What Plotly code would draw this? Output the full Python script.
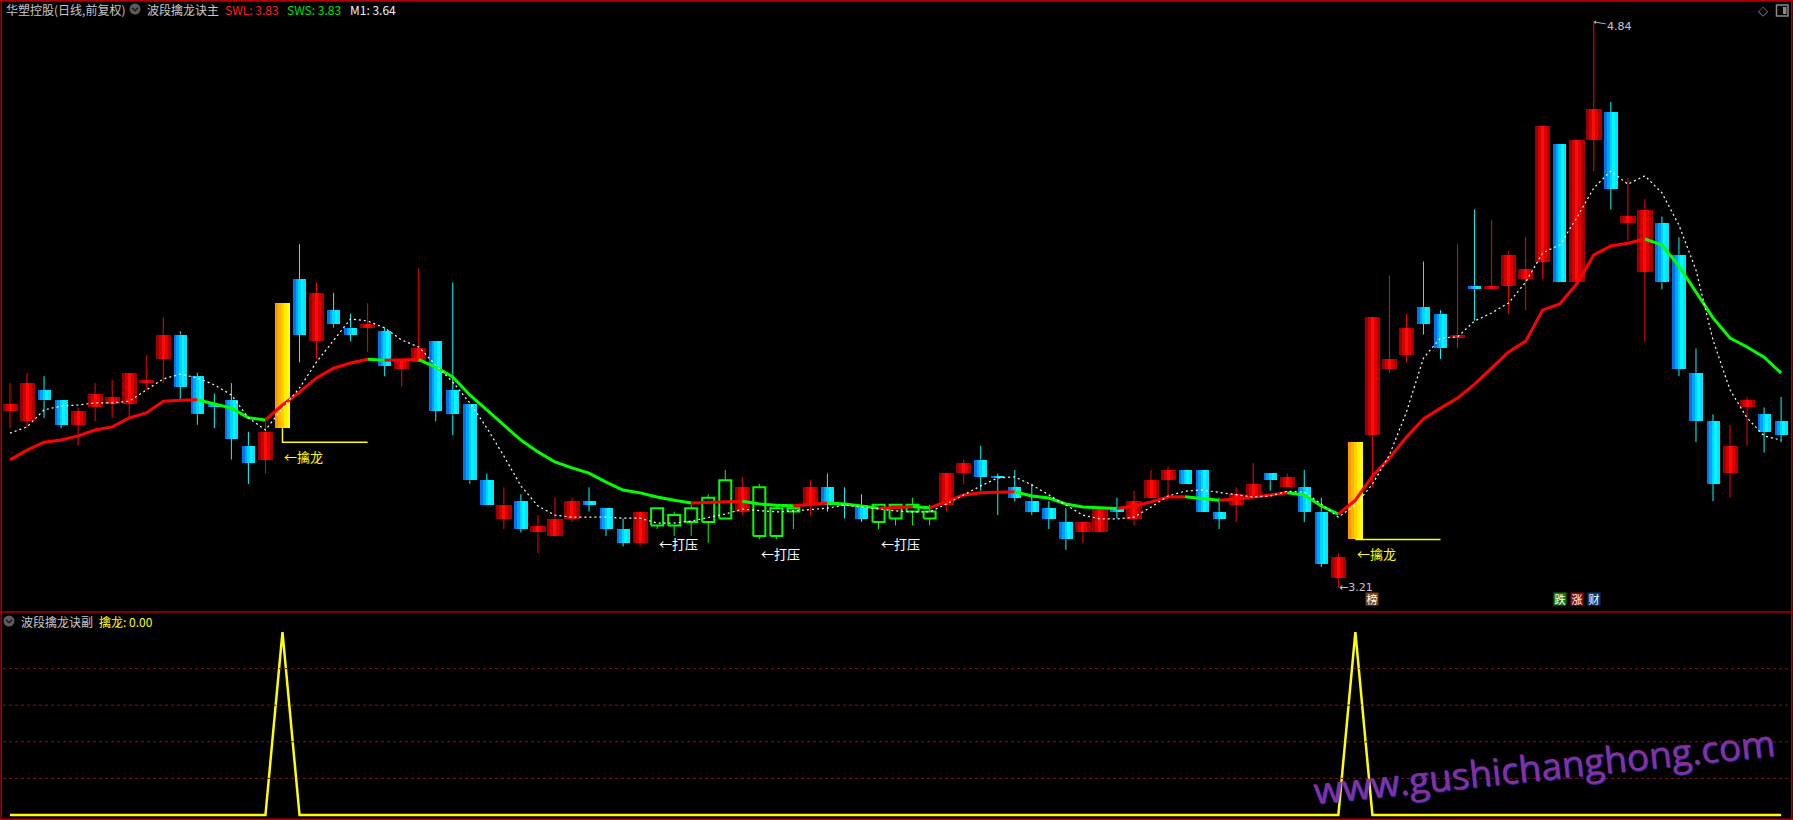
import plotly.graph_objects as go

# ---------------- data ----------------
stock_name = "华塑控股(日线,前复权)"
main_name = "波段擒龙诀主"
sub_name = "波段擒龙诀副"
signal_name = "擒龙"
press_name = "打压"

opens = [3.72, 3.69, 3.78, 3.75, 3.68, 3.73, 3.74, 3.74, 3.80, 3.87,
         3.94, 3.82, 3.74, 3.75, 3.62, 3.58, 3.67, 4.10, 3.92, 4.01,
         3.96, 3.96, 3.95, 3.84, 3.86, 3.92, 3.78, 3.74, 3.52, 3.41,
         3.46, 3.37, 3.36, 3.41, 3.46, 3.44, 3.38, 3.34, 3.39, 3.39,
         3.40, 3.40, 3.41, 3.43, 3.50, 3.36, 3.43, 3.45, 3.50, 3.45,
         3.45, 3.40, 3.45, 3.45, 3.41, 3.45, 3.54, 3.58, 3.53, 3.50,
         3.46, 3.44, 3.40, 3.37, 3.37, 3.44, 3.41, 3.47, 3.52, 3.55,
         3.55, 3.43, 3.45, 3.47, 3.54, 3.50, 3.50, 3.43, 3.24, 3.35,
         3.65, 3.84, 3.88, 4.02, 4.00, 3.93, 4.08, 4.07, 4.08, 4.10,
         4.15, 4.49, 4.09, 4.50, 4.58, 4.26, 4.12, 4.26, 4.17, 3.83,
         3.69, 3.54, 3.73, 3.71, 3.69]
highs = [3.80, 3.83, 3.82, 3.75, 3.73, 3.80, 3.81, 3.83, 3.88, 3.99,
         3.95, 3.83, 3.77, 3.80, 3.66, 3.69, 4.03, 4.20, 4.09, 4.06,
         4.00, 4.03, 3.96, 3.87, 4.13, 3.92, 4.09, 3.74, 3.54, 3.50,
         3.48, 3.42, 3.47, 3.47, 3.50, 3.44, 3.41, 3.43, 3.44, 3.43,
         3.45, 3.48, 3.55, 3.53, 3.51, 3.45, 3.45, 3.52, 3.54, 3.50,
         3.48, 3.45, 3.45, 3.47, 3.45, 3.54, 3.58, 3.62, 3.54, 3.55,
         3.51, 3.46, 3.44, 3.40, 3.44, 3.47, 3.49, 3.55, 3.56, 3.55,
         3.55, 3.47, 3.50, 3.57, 3.54, 3.54, 3.55, 3.47, 3.31, 3.63,
         3.99, 4.11, 4.00, 4.15, 4.01, 4.20, 4.30, 4.27, 4.18, 4.22,
         4.54, 4.49, 4.50, 4.84, 4.61, 4.39, 4.33, 4.28, 4.22, 3.90,
         3.71, 3.68, 3.76, 3.73, 3.76]
lows = [3.67, 3.67, 3.70, 3.67, 3.62, 3.69, 3.70, 3.70, 3.78, 3.80,
        3.75, 3.68, 3.67, 3.58, 3.51, 3.54, 3.63, 3.86, 3.87, 3.96,
        3.92, 3.89, 3.82, 3.79, 3.86, 3.69, 3.65, 3.51, 3.45, 3.38,
        3.37, 3.31, 3.36, 3.40, 3.43, 3.36, 3.33, 3.33, 3.38, 3.36,
        3.36, 3.34, 3.41, 3.42, 3.35, 3.35, 3.38, 3.42, 3.43, 3.41,
        3.40, 3.38, 3.39, 3.39, 3.39, 3.43, 3.51, 3.49, 3.42, 3.46,
        3.42, 3.38, 3.32, 3.34, 3.37, 3.41, 3.39, 3.47, 3.47, 3.51,
        3.43, 3.38, 3.40, 3.47, 3.49, 3.50, 3.40, 3.27, 3.21, 3.35,
        3.50, 3.83, 3.86, 3.94, 3.87, 3.90, 3.98, 4.07, 4.00, 4.01,
        4.10, 4.09, 4.09, 4.41, 4.30, 4.21, 3.92, 4.07, 3.82, 3.63,
        3.46, 3.47, 3.62, 3.60, 3.63]
closes = [3.74, 3.80, 3.75, 3.68, 3.72, 3.77, 3.76, 3.83, 3.81, 3.94,
          3.79, 3.71, 3.73, 3.64, 3.57, 3.66, 4.03, 3.94, 4.06, 3.97,
          3.94, 3.97, 3.85, 3.87, 3.90, 3.72, 3.71, 3.52, 3.45, 3.45,
          3.38, 3.39, 3.41, 3.46, 3.45, 3.38, 3.34, 3.43, 3.44, 3.42,
          3.44, 3.47, 3.52, 3.50, 3.36, 3.44, 3.44, 3.50, 3.45, 3.45,
          3.41, 3.45, 3.41, 3.43, 3.43, 3.54, 3.57, 3.53, 3.53, 3.47,
          3.43, 3.41, 3.35, 3.40, 3.44, 3.43, 3.46, 3.52, 3.55, 3.51,
          3.43, 3.41, 3.48, 3.51, 3.52, 3.53, 3.43, 3.28, 3.30, 3.63,
          3.99, 3.87, 3.96, 3.97, 3.90, 3.94, 4.07, 4.08, 4.17, 4.13,
          4.54, 4.09, 4.50, 4.59, 4.36, 4.28, 4.30, 4.09, 3.84, 3.69,
          3.51, 3.62, 3.75, 3.66, 3.65]

# SWL / SWS trend line (red while rising, green while falling)
trend_line = [3.579, 3.607, 3.630, 3.636, 3.648, 3.665, 3.674, 3.700, 3.714, 3.748,
              3.751, 3.752, 3.740, 3.728, 3.700, 3.694, 3.737, 3.774, 3.815, 3.843,
              3.858, 3.869, 3.866, 3.867, 3.868, 3.846, 3.818, 3.766, 3.723, 3.679,
              3.636, 3.602, 3.573, 3.556, 3.541, 3.515, 3.492, 3.484, 3.472, 3.463,
              3.455, 3.457, 3.458, 3.460, 3.452, 3.448, 3.447, 3.452, 3.455, 3.452,
              3.446, 3.440, 3.442, 3.444, 3.441, 3.460, 3.478, 3.484, 3.486, 3.487,
              3.475, 3.469, 3.452, 3.443, 3.440, 3.439, 3.446, 3.458, 3.472, 3.473,
              3.469, 3.463, 3.466, 3.472, 3.478, 3.484, 3.478, 3.446, 3.423, 3.463,
              3.532, 3.584, 3.645, 3.697, 3.728, 3.757, 3.797, 3.843, 3.890, 3.921,
              4.011, 4.028, 4.086, 4.169, 4.195, 4.203, 4.215, 4.198, 4.137, 4.062,
              3.988, 3.930, 3.904, 3.875, 3.829]
# M1 (white dotted line)
m1_line = [3.656, 3.674, 3.723, 3.734, 3.737, 3.743, 3.743, 3.748, 3.780, 3.812,
           3.826, 3.815, 3.795, 3.766, 3.700, 3.665, 3.728, 3.786, 3.861, 3.924,
           3.985, 3.979, 3.959, 3.924, 3.904, 3.852, 3.803, 3.743, 3.671, 3.590,
           3.504, 3.446, 3.420, 3.414, 3.414, 3.414, 3.411, 3.411, 3.397, 3.397,
           3.403, 3.414, 3.423, 3.437, 3.432, 3.429, 3.432, 3.437, 3.440, 3.449,
           3.443, 3.437, 3.432, 3.429, 3.429, 3.452, 3.478, 3.504, 3.527, 3.530,
           3.507, 3.478, 3.449, 3.420, 3.409, 3.409, 3.414, 3.443, 3.475, 3.489,
           3.492, 3.486, 3.478, 3.472, 3.475, 3.489, 3.486, 3.452, 3.414, 3.449,
           3.509, 3.593, 3.717, 3.872, 3.930, 3.933, 3.979, 4.002, 4.031, 4.091,
           4.175, 4.198, 4.276, 4.362, 4.411, 4.373, 4.397, 4.348, 4.255, 4.126,
           3.924, 3.780, 3.700, 3.648, 3.636]
# 擒龙 signal (sub panel) and 打压 flags
qinlong = [0, 0, 0, 0, 0, 0, 0, 0, 0, 0,
           0, 0, 0, 0, 0, 0, 1, 0, 0, 0,
           0, 0, 0, 0, 0, 0, 0, 0, 0, 0,
           0, 0, 0, 0, 0, 0, 0, 0, 0, 0,
           0, 0, 0, 0, 0, 0, 0, 0, 0, 0,
           0, 0, 0, 0, 0, 0, 0, 0, 0, 0,
           0, 0, 0, 0, 0, 0, 0, 0, 0, 0,
           0, 0, 0, 0, 0, 0, 0, 0, 0, 1,
           0, 0, 0, 0, 0, 0, 0, 0, 0, 0,
           0, 0, 0, 0, 0, 0, 0, 0, 0, 0,
           0, 0, 0, 0, 0]
dayazhi = [0, 0, 0, 0, 0, 0, 0, 0, 0, 0,
           0, 0, 0, 0, 0, 0, 0, 0, 0, 0,
           0, 0, 0, 0, 0, 0, 0, 0, 0, 0,
           0, 0, 0, 0, 0, 0, 0, 0, 1, 1,
           1, 1, 1, 0, 1, 1, 1, 0, 0, 0,
           0, 1, 1, 1, 1, 0, 0, 0, 0, 0,
           0, 0, 0, 0, 0, 0, 0, 0, 0, 0,
           0, 0, 0, 0, 0, 0, 0, 0, 0, 0,
           0, 0, 0, 0, 0, 0, 0, 0, 0, 0,
           0, 0, 0, 0, 0, 0, 0, 0, 0, 0,
           0, 0, 0, 0, 0]
event_days = [81, 92, 93, 94]
event_labels = ["榜", "跌", "涨", "财"]
event_colors = ["#7a4410", "#0b7d12", "#8c0a0a", "#0b3a78"]
watermark = "www.gushichanghong.com"

# ---------------- geometry ----------------
W, H = 1793, 820
PX = 17.03                 # pixels per trading day
X0_PX = 10                 # pixel centre of first day
MAIN_TOP, MAIN_BOT = 1, 612
HI_PX, LO_PX = 22, 588
SUB_ZERO_PX, SUB_ONE_PX = 815, 632
FONT = "Noto Sans CJK SC"

n = len(closes)
xs = list(range(1, n + 1))
x_lo = 1 - X0_PX / PX
x_hi = x_lo + W / PX

hi, lo = max(highs), min(lows)
ppp = (hi - lo) / (LO_PX - HI_PX)
y_top = hi + (HI_PX - MAIN_TOP) * ppp
y_bot = lo - (MAIN_BOT - LO_PX) * ppp
sig_max = max(qinlong)
spp = sig_max / (SUB_ZERO_PX - SUB_ONE_PX)
y2_top = sig_max + (SUB_ONE_PX - MAIN_BOT) * spp
y2_bot = -(H - SUB_ZERO_PX) * spp


def u(px):
    return px / PX


def pxx(x):
    return x / W


def pxy(y):
    return 1 - y / H


fig = go.Figure()

kind = []
for i in range(n):
    if qinlong[i]:
        kind.append("yellow")
    elif dayazhi[i]:
        kind.append("hollow")
    elif closes[i] > opens[i]:
        kind.append("up")
    else:
        kind.append("down")

MINH = ppp * 1.2


def stripe_bars(k, colors, width_px):
    idx = [i for i in range(n) if kind[i] == k]
    if not idx:
        return
    bx = [xs[i] for i in idx]
    tops = [max(opens[i], closes[i]) for i in idx]
    bots = [min(opens[i], closes[i]) for i in idx]
    hts = []
    bases = []
    for t, b in zip(tops, bots):
        if t - b < MINH:
            bases.append((t + b) / 2 - MINH / 2)
            hts.append(MINH)
        else:
            bases.append(b)
            hts.append(t - b)
    m = len(colors)
    sw = u(width_px) / m
    left = -u(width_px) / 2
    for j, c in enumerate(colors):
        fig.add_trace(go.Bar(x=bx, y=hts, base=bases, width=sw * 1.08,
                             offset=left + j * sw, marker=dict(color=c, line=dict(width=0)),
                             xaxis="x", yaxis="y", hoverinfo="skip"))


stripe_bars("up", ["#9a0000", "#d40000", "#ff0a0a", "#e00000", "#aa0000"], 15)
stripe_bars("down", ["#0074e8", "#00a4ff", "#00d4ff", "#00f8ff", "#00e4ff"], 13)
stripe_bars("yellow", ["#ff9800", "#ffb400", "#ffd000", "#ffec00", "#ffff00"], 15)

# wicks
wick_col = {"up": "#ff0000", "down": "#00ffff", "hollow": "#00ff00"}
for k, col in wick_col.items():
    wx, wy = [], []
    for i in range(n):
        if kind[i] != k:
            continue
        t = max(opens[i], closes[i])
        b = min(opens[i], closes[i])
        if highs[i] > t:
            wx += [xs[i], xs[i], None]
            wy += [t, highs[i], None]
        if lows[i] < b:
            wx += [xs[i], xs[i], None]
            wy += [b, lows[i], None]
    fig.add_trace(go.Scatter(x=wx, y=wy, mode="lines", line=dict(color=col, width=1),
                             xaxis="x", yaxis="y", hoverinfo="skip"))

# hollow (打压) boxes
hx, hy = [], []
for i in range(n):
    if kind[i] != "hollow":
        continue
    t = max(opens[i], closes[i])
    b = min(opens[i], closes[i])
    x0, x1 = xs[i] - u(6), xs[i] + u(6)
    hx += [x0, x1, x1, x0, x0, None]
    hy += [b, b, t, t, b, None]
fig.add_trace(go.Scatter(x=hx, y=hy, mode="lines", line=dict(color="#00ff00", width=2),
                         xaxis="x", yaxis="y", hoverinfo="skip"))

# 擒龙 marker lines
for i in range(n):
    if qinlong[i]:
        b = min(opens[i], closes[i])
        fig.add_trace(go.Scatter(x=[xs[i], xs[i], xs[i] + 5], y=[b, lows[i], lows[i]],
                                 mode="lines", line=dict(color="#ffff00", width=1.5),
                                 xaxis="x", yaxis="y", hoverinfo="skip"))

# trend line coloured by direction
runs = []
for i in range(n - 1):
    up = trend_line[i + 1] >= trend_line[i]
    if runs and runs[-1][0] == up:
        runs[-1][1].append(i + 1)
    else:
        runs.append([up, [i, i + 1]])
for up, idx in runs:
    fig.add_trace(go.Scatter(x=[xs[k] for k in idx], y=[trend_line[k] for k in idx],
                             mode="lines", line=dict(color="#ff0000" if up else "#00ff00", width=3),
                             xaxis="x", yaxis="y", hoverinfo="skip"))

# M1 dotted line
fig.add_trace(go.Scatter(x=xs, y=m1_line, mode="lines",
                         line=dict(color="#ffffff", width=1.2, dash="2px,3px"),
                         xaxis="x", yaxis="y", hoverinfo="skip"))

# sub panel signal
fig.add_trace(go.Scatter(x=xs, y=qinlong, mode="lines", line=dict(color="#ffff00", width=2.5),
                         xaxis="x2", yaxis="y2", hoverinfo="skip", cliponaxis=False))

annotations = []
shapes = []

# labels on the price panel
for i in range(n):
    if qinlong[i]:
        annotations.append(dict(x=xs[i], y=lows[i], xref="x", yref="y", text="←" + signal_name,
                                showarrow=False, xanchor="left", yanchor="top", yshift=-3,
                                font=dict(family=FONT, size=13, color="#ffff00")))
    if dayazhi[i] and (i == 0 or not dayazhi[i - 1]):
        annotations.append(dict(x=xs[i], y=lows[i], xref="x", yref="y", text="←" + press_name,
                                showarrow=False, xanchor="left", yanchor="top", yshift=-3,
                                font=dict(family=FONT, size=13, color="#ffffff")))

ih = highs.index(hi)
il = lows.index(lo)
annotations.append(dict(x=xs[ih], y=hi, xref="x", yref="y", text=f"{hi:.2f}", showarrow=True,
                        ax=26, ay=4, arrowcolor="#b0b0b0", arrowwidth=1, arrowhead=1,
                        arrowsize=0.7, standoff=0, font=dict(family="DejaVu Sans", size=11, color="#c8c8c8")))
annotations.append(dict(x=xs[il], y=lo, xref="x", yref="y", text=f"←{lo:.2f}", showarrow=False,
                        xanchor="left", yanchor="middle", yshift=1, borderpad=0,
                        font=dict(family="DejaVu Sans", size=11, color="#c8c8c8")))

for d, lab, col in zip(event_days, event_labels, event_colors):
    annotations.append(dict(x=xs[d - 1], y=pxy(605.5), xref="x", yref="paper", text=lab, showarrow=False,
                            bgcolor=col, width=12, height=12, borderpad=0,
                            font=dict(family=FONT, size=11, color="#ffffff")))

# headers
hdr = [
    (4, stock_name, "#c8c8c8"),
    (145, main_name, "#c8c8c8"),
    (223, f"SWL: {trend_line[-1]:.2f}", "#ff2020"),
    (285, f"SWS: {trend_line[-1]:.2f}", "#00e000"),
    (348, f"M1: {m1_line[-1]:.2f}", "#f0f0f0"),
]
for x, t, c in hdr:
    annotations.append(dict(x=pxx(x), y=pxy(9), xref="paper", yref="paper", text=t, showarrow=False,
                            xanchor="left", yanchor="middle", font=dict(family=FONT, size=12, color=c)))
annotations.append(dict(x=pxx(19), y=pxy(621), xref="paper", yref="paper", text=sub_name, showarrow=False,
                        xanchor="left", yanchor="middle", font=dict(family=FONT, size=12, color="#c8c8c8")))
annotations.append(dict(x=pxx(97), y=pxy(621), xref="paper", yref="paper",
                        text=f"{signal_name}: {qinlong[-1]:.2f}", showarrow=False,
                        xanchor="left", yanchor="middle", font=dict(family=FONT, size=12, color="#ffff00")))
annotations.append(dict(x=pxx(1763), y=pxy(10), xref="paper", yref="paper", text="◇", showarrow=False,
                        xanchor="center", yanchor="middle",
                        font=dict(family="DejaVu Sans", size=13, color="#8a8a8a")))

# watermark
annotations.append(dict(x=pxx(1544), y=pxy(765), xref="paper", yref="paper", text=watermark,
                        showarrow=False, textangle=-6, xanchor="center", yanchor="middle",
                        font=dict(family="Open Sans", size=37, color="#8a2f94",
                                  shadow="1px 1px 1px #3a3ad0")))

# circle icons
for cx, cy in [(135, 9), (9, 621)]:
    shapes.append(dict(type="circle", xref="paper", yref="paper", x0=pxx(cx - 5.5), x1=pxx(cx + 5.5),
                       y0=pxy(cy + 5.5), y1=pxy(cy - 5.5), fillcolor="#5c5c5c", line=dict(width=0)))
    shapes.append(dict(type="path", xref="paper", yref="paper",
                       path=f"M {pxx(cx-3)},{pxy(cy-1.2)} L {pxx(cx)},{pxy(cy+1.8)} L {pxx(cx+3)},{pxy(cy-1.2)}",
                       line=dict(color="#1a1a1a", width=1.5)))

# top-right panel icon
shapes.append(dict(type="rect", xref="paper", yref="paper", x0=pxx(1776.5), x1=pxx(1788), y0=pxy(16), y1=pxy(5),
                   line=dict(color="#8a8a8a", width=1.5)))
shapes.append(dict(type="rect", xref="paper", yref="paper", x0=pxx(1783), x1=pxx(1786.5), y0=pxy(14), y1=pxy(7),
                   fillcolor="#8a8a8a", line=dict(width=0)))

# sub panel dotted grid
for g in [0.2, 0.4, 0.6, 0.8]:
    shapes.append(dict(type="line", xref="paper", yref="y2", x0=pxx(3), x1=pxx(1790), y0=g * sig_max, y1=g * sig_max,
                       line=dict(color="#8c1010", width=1, dash="dot")))

# borders
bc = "#b00000"
shapes += [
    dict(type="line", xref="paper", yref="paper", x0=0, x1=1, y0=pxy(0.8), y1=pxy(0.8), line=dict(color=bc, width=2)),
    dict(type="line", xref="paper", yref="paper", x0=0, x1=1, y0=pxy(MAIN_BOT), y1=pxy(MAIN_BOT), line=dict(color=bc, width=1.5)),
    dict(type="line", xref="paper", yref="paper", x0=0, x1=1, y0=pxy(819.3), y1=pxy(819.3), line=dict(color=bc, width=1.5)),
    dict(type="line", xref="paper", yref="paper", x0=pxx(1.2), x1=pxx(1.2), y0=0, y1=1, line=dict(color=bc, width=1.5)),
    dict(type="line", xref="paper", yref="paper", x0=pxx(1791.8), x1=pxx(1791.8), y0=0, y1=1, line=dict(color=bc, width=1.5)),
]

fig.update_layout(
    width=W, height=H, margin=dict(l=0, r=0, t=0, b=0),
    paper_bgcolor="#000000", plot_bgcolor="#000000",
    showlegend=False, hovermode=False, barmode="overlay", bargap=0,
    xaxis=dict(domain=[0, 1], range=[x_lo, x_hi], visible=False, anchor="y", fixedrange=True),
    yaxis=dict(domain=[(H - MAIN_BOT) / H, (H - MAIN_TOP) / H], range=[y_bot, y_top], visible=False,
               anchor="x", fixedrange=True),
    xaxis2=dict(domain=[0, 1], range=[x_lo, x_hi], visible=False, anchor="y2", fixedrange=True),
    yaxis2=dict(domain=[0, (H - MAIN_BOT) / H], range=[y2_bot, y2_top], visible=False, anchor="x2",
                fixedrange=True),
    annotations=annotations, shapes=shapes,
)

fig.write_html("out.html", config={"displayModeBar": False},
               post_script="document.body.style.margin='0px';document.body.style.background='#000';")
